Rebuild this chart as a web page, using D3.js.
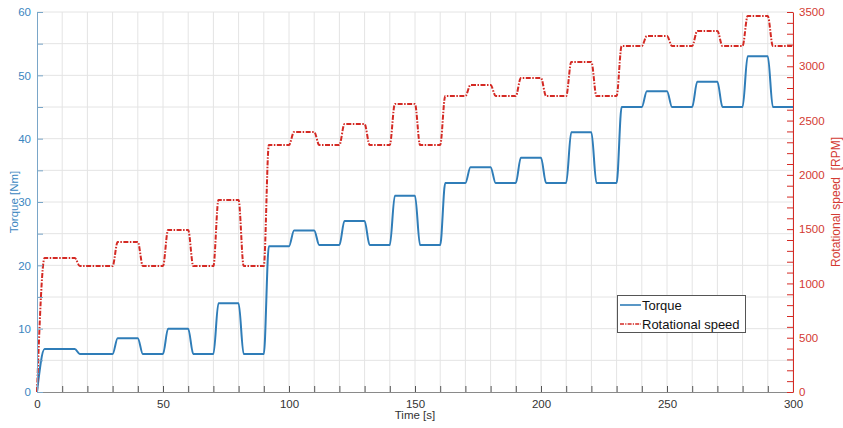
<!DOCTYPE html>
<html><head><meta charset="utf-8">
<script src="https://cdn.jsdelivr.net/npm/d3@7"></script>
<style>
body{margin:0;background:#fff;}
text{font-family:"Liberation Sans",Arial,sans-serif;}
</style></head>
<body><svg id="c" width="843" height="428"></svg>
<script>
// Step start times [s]
const stepTimes = [0,15,30,40,50,60,70,80,90,100,110,120,130,140,150,160,170,180,190,200,210,220,230,240,250,260,270,280,290];
// Torque level in each step [Nm]
const torque = [6.8,6.0,8.5,6.0,10,6.0,14,6.0,23,25.5,23.2,27,23.2,31,23.2,33,35.5,33,37,33,41,33,45,47.5,45,49,45,53,45];
// Rotational speed level in each step [RPM]
const speed = [1234,1160,1382,1160,1492,1160,1768,1160,2275,2395,2275,2468,2275,2653,2275,2726,2828,2726,2892,2726,3040,2726,3187,3279,3187,3325,3187,3463,3187];
const xTicks = [0,50,100,150,200,250,300];
const yLTicks = [0,10,20,30,40,50,60];
const yRTicks = [0,500,1000,1500,2000,2500,3000,3500];
const seriesNames = ["Torque","Rotational speed"];

const blue = "#2f7db8", red = "#d42a24", blueTxt="#3a86bf", redTxt="#d33a32";
const L=37,R=793,T=12,B=392, tEnd=300, rise=2, startRise=3;
const svg = d3.select("#c");
const x = d3.scaleLinear().domain([0,300]).range([L,R]);
const yL = d3.scaleLinear().domain([0,60]).range([B,T]);
const yR = d3.scaleLinear().domain([0,3500]).range([B,T]);

// grid
const g = svg.append("g");
g.selectAll(".vg").data(d3.range(10,301,10)).join("line")
 .attr("x1",d=>x(d)).attr("x2",d=>x(d)).attr("y1",T).attr("y2",B)
 .attr("stroke","#e4e4e4").attr("stroke-width",1);
g.selectAll(".hg").data(d3.range(5,61,5)).join("line")
 .attr("x1",L).attr("x2",R).attr("y1",d=>yL(d)).attr("y2",d=>yL(d))
 .attr("stroke","#e4e4e4").attr("stroke-width",1);

function pts(levels){
  const p=[[stepTimes[0],0],[stepTimes[0]+startRise,levels[0]]];
  for(let i=1;i<stepTimes.length;i++){
    p.push([stepTimes[i],levels[i-1]]);
    p.push([stepTimes[i]+rise,levels[i]]);
  }
  p.push([tEnd,levels[levels.length-1]]);
  return p;
}
const lineL = d3.line().x(d=>x(d[0])).y(d=>yL(d[1])).curve(d3.curveMonotoneX);
const lineR = d3.line().x(d=>x(d[0])).y(d=>yR(d[1])).curve(d3.curveMonotoneX);

svg.append("path").attr("d",lineL(pts(torque))).attr("fill","none")
 .attr("stroke",blue).attr("stroke-width",2);
svg.append("path").attr("d",lineR(pts(speed))).attr("fill","none")
 .attr("stroke",red).attr("stroke-width",2).attr("stroke-dasharray","5,1.5,1.5,1.5");

// axes
const xAxis = d3.axisBottom(x).tickValues(d3.range(0,301,10)).tickSizeInner(-6).tickSizeOuter(0)
  .tickFormat(d=>xTicks.includes(d)?d:"");
const ax = svg.append("g").attr("transform",`translate(0,${B})`).call(xAxis);
ax.select(".domain").attr("stroke","#8a8a8a");
ax.selectAll(".tick line").attr("stroke","#555");
ax.selectAll("text").attr("fill","#333").attr("font-size",11.5).attr("dy","1.1em");

const lAxis = d3.axisLeft(yL).tickValues(d3.range(0,61,5)).tickSizeInner(-6).tickSizeOuter(0)
  .tickFormat(d=>yLTicks.includes(d)?d:"");
const al = svg.append("g").attr("transform",`translate(${L},0)`).call(lAxis);
al.select(".domain").attr("stroke","#7aa6c8");
al.selectAll(".tick line").attr("stroke","#7aa6c8");
al.selectAll("text").attr("fill",blueTxt).attr("font-size",11.5).attr("x",-6);

const rAxis = d3.axisRight(yR).tickValues(d3.range(0,3501,100)).tickSizeInner(-6).tickSizeOuter(0)
  .tickFormat(d=>yRTicks.includes(d)?d:"");
const ar = svg.append("g").attr("transform",`translate(${R},0)`).call(rAxis);
ar.select(".domain").attr("stroke",red);
ar.selectAll(".tick line").attr("stroke",red);
ar.selectAll("text").attr("fill",redTxt).attr("font-size",11.5).attr("x",6);

// axis titles
svg.append("text").attr("x",415).attr("y",419).attr("text-anchor","middle")
 .attr("font-size",11.5).attr("fill","#333").text("Time [s]");
svg.append("text").attr("transform","translate(18,202) rotate(-90)").attr("text-anchor","middle")
 .attr("font-size",11.5).attr("fill",blueTxt).text("Torque [Nm]");
svg.append("text").attr("transform","translate(840,202) rotate(-90)").attr("text-anchor","middle")
 .attr("font-size",12).attr("fill",redTxt).attr("xml:space","preserve").style("white-space","pre").text("Rotational speed  [RPM]");

// legend
const lg = svg.append("g");
lg.append("rect").attr("x",617.5).attr("y",295.5).attr("width",128).attr("height",37)
 .attr("fill","#fff").attr("stroke","#555").attr("stroke-width",1);
const items=[{n:seriesNames[0],c:blue,da:null,y:305},{n:seriesNames[1],c:red,da:"4,1.2,1.2,1.2",y:324}];
items.forEach(it=>{
  lg.append("line").attr("x1",620).attr("x2",641).attr("y1",it.y).attr("y2",it.y)
    .attr("stroke",it.c).attr("stroke-width",1.6).attr("stroke-dasharray",it.da);
  lg.append("text").attr("x",642).attr("y",it.y+4.5).attr("font-size",13).attr("fill","#111").text(it.n);
});
</script></body></html>
